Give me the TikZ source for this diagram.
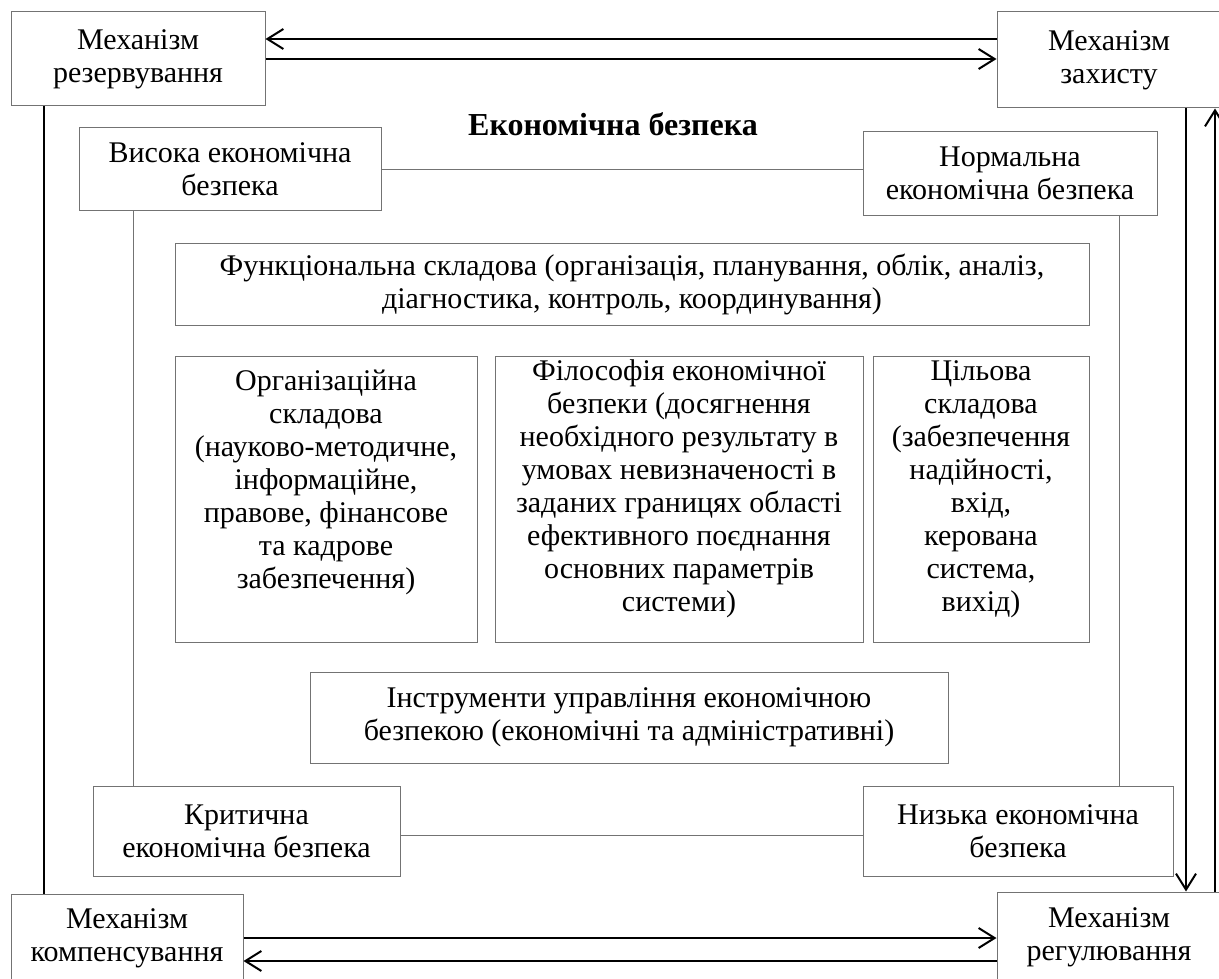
\documentclass[tikz,border=0pt]{standalone}
\usepackage{fontspec}
\setmainfont{Liberation Serif}
\usetikzlibrary{arrows.meta,positioning}
\definecolor{boxgray}{gray}{0.45}

\begin{document}
\begin{tikzpicture}[x=1pt,y=-1pt,>={Straight Barb[length=16pt,width=20pt]},
  box/.style={rectangle,draw=boxgray,line width=1pt,fill=white,inner sep=0pt,
    align=center,font=\fontsize{30}{33}\selectfont},
  mech/.style={line width=2pt},
  level/.style={draw=boxgray,line width=1pt}]

  \path[use as bounding box,fill=white] (0,0) rectangle (1219,979);

  % mechanisms
  \node[box,minimum width=254pt,minimum height=94pt] (mres) at (138,59) {Механізм\\резервування};
  \node[box,minimum width=224pt,minimum height=96pt] (mzah) at (1109,60) {Механізм\\захисту};
  \node[box,minimum width=232pt,minimum height=88pt] (mkomp) at (127,938) {Механізм\\компенсування};
  \node[box,minimum width=224pt,minimum height=90pt] (mreg) at (1109,937) {Механізм\\регулювання};

  \node[font=\fontsize{32}{34}\selectfont\bfseries,anchor=base] (title) at (613,136) {Економічна безпека};

  % levels
  \node[box,minimum width=302pt,minimum height=83pt] (vys) at (230,169.5) {Висока економічна\\безпека};
  \node[box,minimum width=294pt,minimum height=83pt] (norm) at (1010,173.5) {Нормальна\\економічна безпека};
  \node[box,minimum width=307pt,minimum height=90pt] (krit) at (246.5,831) {Критична\\економічна безпека};
  \node[box,minimum width=310pt,minimum height=90pt] (nyz) at (1018,831) {Низька економічна\\безпека};

  % components
  \node[box,minimum width=914pt,minimum height=82pt] (func) at (632,284)
    {Функціональна складова (організація, планування, облік, аналіз,\\діагностика, контроль, координування)};
  \node[box,minimum width=302pt,minimum height=286pt,text depth=40pt] (org) at (326,499)
    {Організаційна\\складова\\(науково-методичне,\\інформаційне,\\правове, фінансове\\та кадрове\\забезпечення)};
  \node[box,minimum width=368pt,minimum height=286pt,text depth=26pt] (fil) at (679,499)
    {Філософія економічної\\безпеки (досягнення\\необхідного результату в\\умовах невизначеності в\\заданих границях області\\ефективного поєднання\\основних параметрів\\системи)};
  \node[box,minimum width=216pt,minimum height=286pt,text depth=26pt] (cil) at (981,499)
    {Цільова\\складова\\(забезпечення\\надійності,\\вхід,\\керована\\система,\\вихід)};
  \node[box,minimum width=638pt,minimum height=91pt] (instr) at (629,717.5)
    {Інструменти управління економічною\\безпекою (економічні та адміністративні)};

  \path[level]
    (vys.east) -- (vys.east -| norm.west)
    ([yshift=-4pt]krit.east) -- ([yshift=-4pt]krit.east -| nyz.west)
    ([xshift=-97pt]vys.south) -- ([xshift=-97pt]vys.south |- krit.north)
    ([xshift=109pt]norm.south) -- ([xshift=109pt]norm.south |- nyz.north);

  \draw[mech,->] ([yshift=21pt]mzah.west) -- ([yshift=21pt]mzah.west -| mres.east);
  \draw[mech,->] (mres.east) -- (mres.east -| mzah.west);
  \draw[mech,->] (mkomp.east) -- (mkomp.east -| mreg.west);
  \draw[mech,->] ([yshift=-24pt]mreg.west) -- ([yshift=-24pt]mreg.west -| mkomp.east);

  \draw[mech,line width=2.6pt] ([xshift=-94pt]mres.south) -- ([xshift=-94pt]mres.south |- mkomp.north);
  \draw[mech,->] ([xshift=77pt]mzah.south) -- ([xshift=77pt]mzah.south |- mreg.north);
  \draw[mech,->] ([xshift=106pt]mreg.north) -- ([xshift=106pt]mreg.north |- mzah.south);

\end{tikzpicture}
\end{document}
